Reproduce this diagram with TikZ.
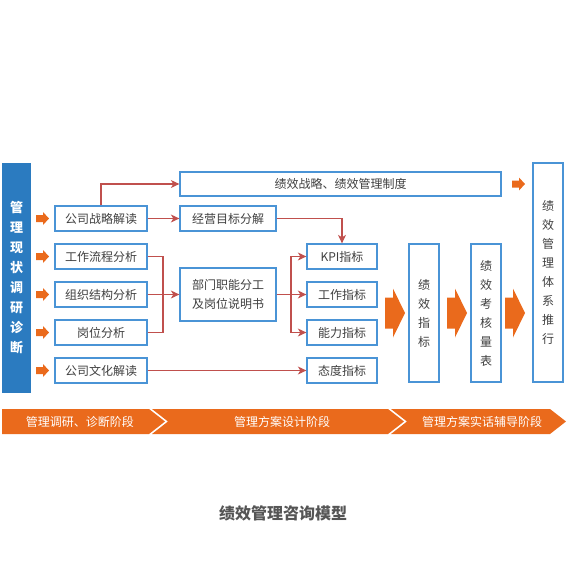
\documentclass[tikz,border=0pt]{standalone}
\usepackage{fontspec}
\setmainfont{Noto Sans CJK SC}
\usetikzlibrary{arrows.meta}
\definecolor{boxblue}{HTML}{4A94D6}
\definecolor{barblue}{HTML}{2B7BC0}
\definecolor{orng}{HTML}{EA6A1C}
\definecolor{arrred}{HTML}{C0504D}
\definecolor{txt}{HTML}{404040}
\definecolor{ttl}{HTML}{555555}
\tikzset{
  box/.style={draw=boxblue, line width=1.3pt, fill=white, text=txt, inner sep=0pt,
    font=\fontsize{12}{19}\selectfont, align=center},
  vbox/.style={box, minimum width=30pt},
  redline/.style={draw=arrred, line width=1.2pt},
  redarr/.style={redline, -{Stealth[length=8.5pt,width=8pt,inset=2.5pt]}},
  smallarr/.pic={\fill[orng] (0,-3.5) -- (7,-3.5) -- (7,-6.5) -- (13,0) -- (7,6.5) -- (7,3.5) -- (0,3.5) -- cycle;},
  bigarr/.pic={\fill[orng] (0,-15.5) -- (8,-15.5) -- (8,-24.5) -- (20,0) -- (8,24.5) -- (8,15.5) -- (0,15.5) -- cycle;},
  bandtext/.style={text=white, font=\fontsize{12}{14}\selectfont}
}
\begin{document}
\begin{tikzpicture}[x=1pt,y=-1pt]
\useasboundingbox (0,0) rectangle (566,579);
% left bar
\node[fill=barblue, minimum width=29pt, minimum height=230pt, inner sep=0pt, text=white,
  font=\fontsize{13}{20}\selectfont\bfseries, align=center] (bar) at (16.5,278)
  {管\\理\\现\\状\\调\\研\\诊\\断};
% left small arrows
\foreach \yy in {218.5,256.5,294.5,332.5,370.5} { \pic at (36,\yy) {smallarr}; }
% left boxes
\node[box, minimum width=92pt, minimum height=25pt] (gs) at (101,218.5) {公司战略解读};
\node[box, minimum width=92pt, minimum height=25pt] (gw) at (101,256.5) {工作流程分析};
\node[box, minimum width=92pt, minimum height=25pt] (zz) at (101,294.5) {组织结构分析};
\node[box, minimum width=92pt, minimum height=25pt] (gf) at (101,332.5) {岗位分析};
\node[box, minimum width=92pt, minimum height=25pt] (wh) at (101,370.5) {公司文化解读};
% middle boxes
\node[box, minimum width=321pt, minimum height=24pt] (top) at (340.5,184) {绩效战略、绩效管理制度};
\node[box, minimum width=96pt, minimum height=25pt] (jy) at (228,218.5) {经营目标分解};
\node[box, minimum width=96pt, minimum height=53pt] (bm) at (228,294.5) {部门职能分工\\及岗位说明书};
% indicator boxes
\node[box, minimum width=70pt, minimum height=25pt] (kpi) at (342,256.5) {KPI指标};
\node[box, minimum width=70pt, minimum height=25pt] (gz) at (342,294.5) {工作指标};
\node[box, minimum width=70pt, minimum height=25pt] (nl) at (342,332.5) {能力指标};
\node[box, minimum width=70pt, minimum height=25pt] (td) at (342,370.5) {态度指标};
% tall boxes
\node[vbox, minimum height=138pt] (jxzb) at (424,313) {绩\\效\\指\\标};
\node[vbox, minimum height=138pt] (khb) at (486,313) {绩\\效\\考\\核\\量\\表};
\node[vbox, minimum height=219pt] (tx) at (548,272.5) {绩\\效\\管\\理\\体\\系\\推\\行};
% big orange arrows
\pic at (385,313) {bigarr};
\pic at (447,313) {bigarr};
\pic at (505,313) {bigarr};
\pic at (512,184) {smallarr};
% red connectors
\draw[redarr] (gs.north) |- (top.west);
\draw[redarr] (gs.east) -- (jy.west);
\draw[redarr] (jy.east) -| (kpi.north);
\coordinate (jl) at (163,294.5);
\draw[redline] (gw.east) -| (jl);
\draw[redline] (gf.east) -| (jl);
\draw[redarr] (zz.east) -- (bm.west);
\coordinate (jr) at (291,294.5);
\draw[redline] (bm.east) -- (jr);
\draw[redarr] (jr) |- (kpi.west);
\draw[redarr] (jr) -- (gz.west);
\draw[redarr] (jr) |- (nl.west);
\draw[redarr] (wh.east) -- (td.west);
% bottom band
\fill[orng] (2,409) -- (149,409) -- (165,421.5) -- (149,434) -- (2,434) -- cycle;
\fill[orng] (152,409) -- (388,409) -- (404,421.5) -- (388,434) -- (152,434) -- (168,421.5) -- cycle;
\fill[orng] (391,409) -- (550,409) -- (566,421.5) -- (550,434) -- (391,434) -- (407,421.5) -- cycle;
\node[bandtext] (b1) at (80,421.5) {管理调研、诊断阶段};
\node[bandtext] (b2) at (282,421.5) {管理方案设计阶段};
\node[bandtext] (b3) at (482,421.5) {管理方案实话辅导阶段};
% title
\node[text=ttl, font=\fontsize{16}{19}\selectfont\bfseries] (title) at (283,513) {绩效管理咨询模型};
\end{tikzpicture}
\end{document}
